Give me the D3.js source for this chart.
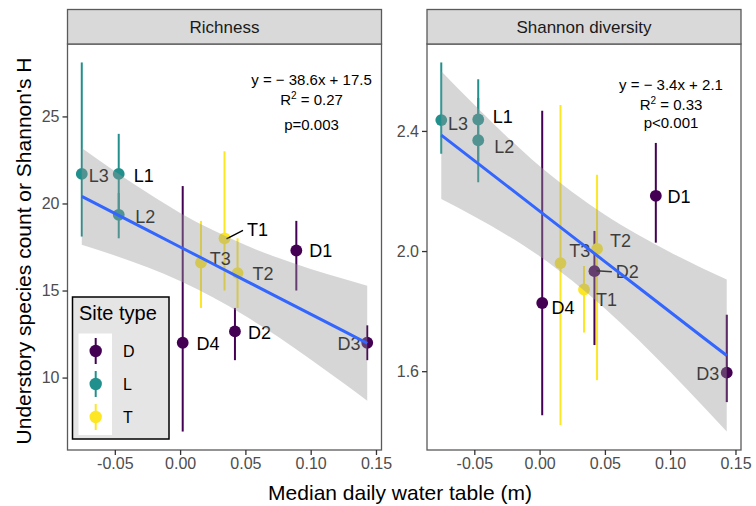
<!DOCTYPE html>
<html>
<head>
<meta charset="utf-8">
<script src="https://cdn.jsdelivr.net/npm/d3@7"></script>
<style>
  body { margin: 0; background: #fff; }
  svg { display: block; font-family: "Liberation Sans", Arial, sans-serif; }
</style>
</head>
<body>
<svg id="chart"></svg>
<script>
// site means with error bar ends
const sites = ['L3', 'L1', 'L2', 'D4', 'T3', 'T1', 'T2', 'D2', 'D1', 'D3']
const siteType = ['L', 'L', 'L', 'D', 'T', 'T', 'T', 'D', 'D', 'D']
const waterTable = [-0.0753, -0.047, -0.047, 0.002, 0.016, 0.034, 0.044, 0.042, 0.089, 0.1433]

const richness = [21.7, 21.7, 19.35, 12.0, 16.6, 18.0, 16.0, 12.65, 17.3, 12.0]
const richnessLo = [18.1, 19.5, 18.0, 6.9, 14.0, 15.0, 14.0, 11.0, 15.0, 11.0]
const richnessHi = [28.1, 24.0, 20.6, 21.0, 19.0, 23.0, 18.0, 14.0, 19.0, 13.0]

const shannon = [2.436, 2.438, 2.369, 1.827, 1.960, 1.872, 2.007, 1.933, 2.184, 1.595]
const shannonLo = [2.324, 2.30, 2.229, 1.453, 1.421, 1.729, 1.570, 1.687, 2.028, 1.497]
const shannonHi = [2.628, 2.572, 2.51, 2.467, 2.486, 1.950, 2.254, 2.067, 2.360, 1.788]

// smooth line + confidence band, read at these x positions
const fitX = [-0.0753, -0.05, -0.025, 0, 0.025, 0.05, 0.075, 0.1, 0.125, 0.1433]
const richnessFit = [20.41, 19.43, 18.47, 17.5, 16.54, 15.57, 14.61, 13.64, 12.68, 11.97]
const richnessBandLo = [17.63, 17.01, 16.33, 15.54, 14.61, 13.53, 12.34, 11.04, 9.69, 8.67]
const richnessBandHi = [23.19, 21.85, 20.61, 19.46, 18.47, 17.61, 16.88, 16.24, 15.67, 15.27]
const shannonFit = [2.386, 2.301, 2.217, 2.133, 2.049, 1.965, 1.881, 1.797, 1.713, 1.652]
const shannonBandLo = [2.173, 2.115, 2.053, 1.983, 1.901, 1.809, 1.707, 1.598, 1.484, 1.399]
const shannonBandHi = [2.599, 2.487, 2.381, 2.283, 2.197, 2.121, 2.055, 1.996, 1.942, 1.905]

const types = ['D', 'L', 'T']
const typeColors = ['#440154', '#21908C', '#FDE725']

const xTicks = [-0.05, 0, 0.05, 0.10, 0.15]
const richnessTicks = [10, 15, 20, 25]
const shannonTicks = [1.6, 2.0, 2.4]

const richnessStats = ['y = \u2212 38.6x + 17.5', '0.27', 'p=0.003']
const shannonStats = ['y = \u2212 3.4x + 2.1', '0.33', 'p<0.001']

// label placement (pixel nudges from each point), like ggrepel put them
const richnessNudge = {
  L3: [7, 1.5], L1: [15, 1.5], L2: [16.5, 1.6], T1: [22.5, -8.4, true], T3: [8.8, -3.6],
  T2: [15, 1], D1: [13, 0], D4: [13.7, 0.6], D2: [13, 1.7], D3: [-6.7, 0.6]
}
const shannonNudge = {
  L3: [6.7, 4], L1: [14.5, -2.7], L2: [16, 6.7], D1: [11.6, 0.7], T2: [13, -8],
  T3: [8.7, -12], D2: [21.4, 0.7, true], T1: [12, 10], D4: [9.3, 5], D3: [-7.4, 1]
}

const width = 756
const height = 506
const panelTop = 44
const panelH = 406
const panelW = 314
const stripH = 34.5

const svg = d3.select('#chart').attr('width', width).attr('height', height)

const colorScale = d3.scaleOrdinal().domain(types).range(typeColors)

// ggplot-style 5% expansion
let expand = (ext) => {
  let pad = (ext[1] - ext[0]) * 0.05
  return [ext[0] - pad, ext[1] + pad]
}

let drawPanel = (p) => {
  let g = svg.append('g').attr('transform', 'translate(' + p.left + ',' + panelTop + ')')

  let xScale = d3.scaleLinear()
    .domain(expand(d3.extent(waterTable)))
    .range([0, panelW])
  let yScale = d3.scaleLinear()
    .domain(expand(d3.extent(p.lo.concat(p.hi, p.bandLo, p.bandHi))))
    .range([panelH, 0])

  // strip
  svg.append('rect')
    .attr('x', p.left).attr('y', panelTop - stripH)
    .attr('width', panelW).attr('height', stripH)
    .attr('fill', '#d9d9d9').attr('stroke', '#5a5a5a').attr('stroke-width', 1.3)
  svg.append('text')
    .attr('x', p.left + panelW / 2).attr('y', panelTop - stripH / 2)
    .attr('dy', '0.35em').attr('text-anchor', 'middle')
    .attr('font-size', 17).attr('fill', '#1a1a1a')
    .text(p.title)

  let rows = sites.map((s, i) => ({
    site: s, type: siteType[i], x: waterTable[i], y: p.y[i], lo: p.lo[i], hi: p.hi[i]
  }))

  g.selectAll('.bar')
    .data(rows).enter().append('line')
    .attr('x1', d => xScale(d.x)).attr('x2', d => xScale(d.x))
    .attr('y1', d => yScale(d.lo)).attr('y2', d => yScale(d.hi))
    .attr('stroke', d => colorScale(d.type)).attr('stroke-width', 2)

  g.selectAll('.pt')
    .data(rows).enter().append('circle')
    .attr('cx', d => xScale(d.x)).attr('cy', d => yScale(d.y))
    .attr('r', 5.9)
    .attr('fill', d => colorScale(d.type))

  rows.forEach(d => {
    let n = p.nudge[d.site]
    let px = xScale(d.x), py = yScale(d.y)
    if (n[2]) {
      g.append('line')
        .attr('x1', px + 2).attr('y1', py - 0.5 * Math.sign(n[1]))
        .attr('x2', px + n[0] - 4).attr('y2', py + n[1] * 0.95)
        .attr('stroke', '#000').attr('stroke-width', 1.5)
    }
    g.append('text')
      .attr('x', px + n[0]).attr('y', py + n[1])
      .attr('dy', '0.35em')
      .attr('text-anchor', n[0] < 0 ? 'end' : 'start')
      .attr('font-size', 18).attr('fill', '#000')
      .text(d.site)
  })

  // band goes over the marks, as geom_smooth does
  let band = fitX.map((x, i) => ({ x: x, lo: p.bandLo[i], hi: p.bandHi[i], fit: p.fit[i] }))
  g.append('path')
    .datum(band)
    .attr('d', d3.area().curve(d3.curveMonotoneX)
      .x(d => xScale(d.x)).y0(d => yScale(d.lo)).y1(d => yScale(d.hi)))
    .attr('fill', '#999999').attr('fill-opacity', 0.4)
  g.append('path')
    .datum(band)
    .attr('d', d3.line().x(d => xScale(d.x)).y(d => yScale(d.fit)))
    .attr('fill', 'none').attr('stroke', '#3366FF').attr('stroke-width', 3)

  // stats text
  let st = g.append('g').attr('font-size', 15).attr('fill', '#000').attr('text-anchor', 'middle')
  st.append('text').attr('x', p.statX).attr('y', p.statY).attr('dy', '0.35em').text(p.stats[0])
  let r2 = st.append('text').attr('x', p.statX).attr('y', p.statY + 20).attr('dy', '0.35em')
  r2.append('tspan').text('R')
  r2.append('tspan').attr('font-size', 10).attr('dy', '-0.6em').text('2')
  r2.append('tspan').attr('dy', '0.4em').text(' = ' + p.stats[1])
  st.append('text').attr('x', p.statX).attr('y', p.statY + p.pGap).attr('dy', '0.35em').text(p.stats[2])

  // border
  g.append('rect')
    .attr('width', panelW).attr('height', panelH)
    .attr('fill', 'none').attr('stroke', '#5a5a5a').attr('stroke-width', 1.3)

  let xAxis = d3.axisBottom(xScale).tickValues(xTicks).tickSize(5).tickPadding(3)
    .tickFormat(d => d.toFixed(2))
  let gx = g.append('g').attr('transform', 'translate(0,' + panelH + ')').call(xAxis)
  let yAxis = d3.axisLeft(yScale).tickValues(p.ticks).tickSize(5).tickPadding(3)
    .tickFormat(p.tickFmt)
  let gy = g.append('g').call(yAxis)
  ;[gx, gy].forEach(a => {
    a.select('.domain').remove()
    a.selectAll('line').attr('stroke', '#333').attr('stroke-width', 1.3)
    a.selectAll('text').attr('font-size', 16).attr('fill', '#4d4d4d')
      .attr('font-family', '"Liberation Sans", Arial, sans-serif')
  })

  return g
}

drawPanel({
  left: 67.5, title: 'Richness', y: richness, lo: richnessLo, hi: richnessHi,
  fit: richnessFit, bandLo: richnessBandLo, bandHi: richnessBandHi,
  ticks: richnessTicks, tickFmt: d => d, nudge: richnessNudge,
  stats: richnessStats, statX: 244, statY: 36, pGap: 45
})
drawPanel({
  left: 427, title: 'Shannon diversity', y: shannon, lo: shannonLo, hi: shannonHi,
  fit: shannonFit, bandLo: shannonBandLo, bandHi: shannonBandHi,
  ticks: shannonTicks, tickFmt: d => d.toFixed(1), nudge: shannonNudge,
  stats: shannonStats, statX: 244, statY: 41, pGap: 38
})

// legend inside the left panel
let lg = svg.append('g').attr('transform', 'translate(72.5,297)')
lg.append('rect').attr('width', 96.5).attr('height', 142)
  .attr('fill', '#e5e5e5').attr('stroke', '#000').attr('stroke-width', 1.5)
lg.append('text').attr('x', 6.5).attr('y', 23).attr('font-size', 20).attr('fill', '#000').text('Site type')
lg.append('rect').attr('x', 6).attr('y', 36.5).attr('width', 33.5).attr('height', 101.5).attr('fill', '#fff')
types.forEach((t, i) => {
  let cy = 54 + i * 33
  lg.append('line').attr('x1', 23.2).attr('x2', 23.2).attr('y1', cy - 13).attr('y2', cy + 13)
    .attr('stroke', colorScale(t)).attr('stroke-width', 2)
  lg.append('circle').attr('cx', 23.2).attr('cy', cy).attr('r', 6.2).attr('fill', colorScale(t))
  lg.append('text').attr('x', 50.5).attr('y', cy).attr('dy', '0.35em')
    .attr('font-size', 16).attr('fill', '#000').text(t)
})

// axis titles
svg.append('text')
  .attr('x', 400).attr('y', 493).attr('dy', '0.35em')
  .attr('text-anchor', 'middle').attr('font-size', 21).attr('fill', '#000')
  .text('Median daily water table (m)')
svg.append('text')
  .attr('transform', 'translate(24,251) rotate(-90)')
  .attr('dy', '0.35em')
  .attr('text-anchor', 'middle').attr('font-size', 21).attr('fill', '#000')
  .text("Understory species count or Shannon's H")
</script>
</body>
</html>
